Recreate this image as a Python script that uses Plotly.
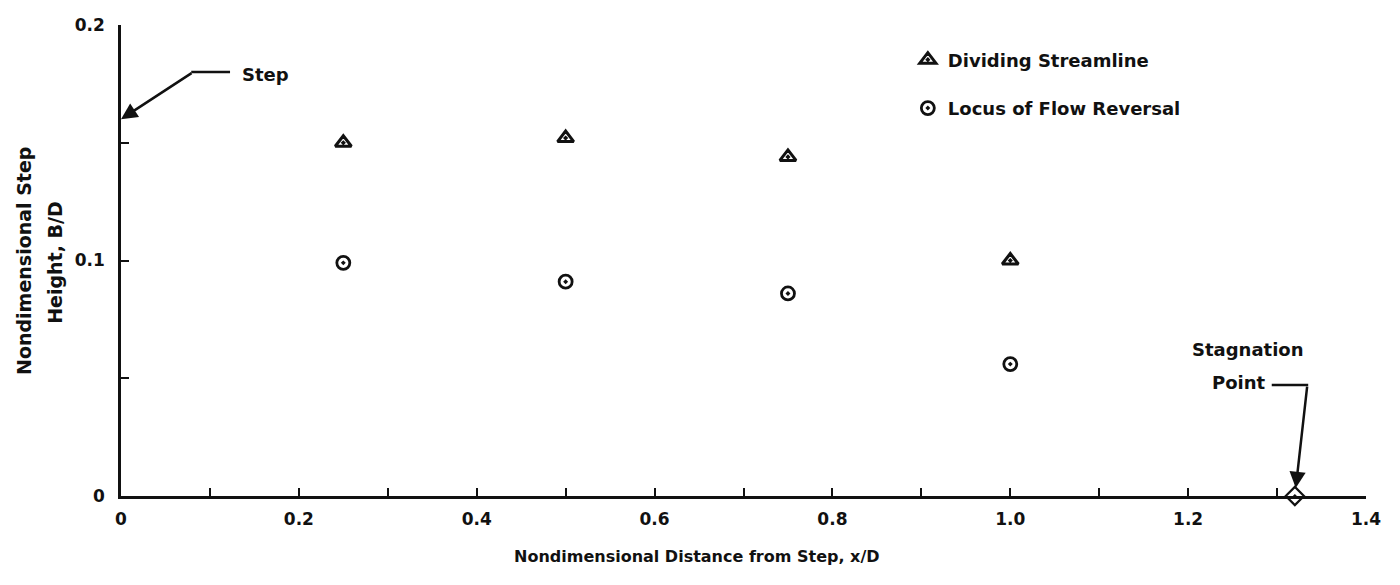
import plotly.graph_objects as go

# Measured profile data downstream of a rearward-facing step
x_stations = [0.25, 0.50, 0.75, 1.00]
dividing_streamline = [0.150, 0.152, 0.144, 0.100]
flow_reversal = [0.099, 0.091, 0.086, 0.056]
stagnation_x = [1.32]
stagnation_y = [0.0]
step_height = 0.16

x_ticks = [round(0.1 * i, 1) for i in range(15)]
x_ticktext = ["0", "", "0.2", "", "0.4", "", "0.6", "", "0.8", "", "1.0", "", "1.2", "", "1.4"]
y_ticks = [0, 0.05, 0.1, 0.15, 0.2]
y_ticktext = ["0", "", "0.1", "", "0.2"]

INK = "#111111"
FONT = "DejaVu Sans"

fig = go.Figure()

fig.add_trace(go.Scatter(
    x=x_stations, y=dividing_streamline, mode="markers",
    name="Dividing Streamline", legendgroup="a",
    marker=dict(symbol="triangle-up-open-dot", size=14, color=INK,
                line=dict(width=3, color=INK)),
    cliponaxis=False,
))
fig.add_trace(go.Scatter(
    x=x_stations, y=flow_reversal, mode="markers",
    name="Locus of Flow Reversal", legendgroup="b",
    marker=dict(symbol="circle-open-dot", size=13, color=INK,
                line=dict(width=2.8, color=INK)),
    cliponaxis=False,
))
fig.add_trace(go.Scatter(
    x=stagnation_x, y=stagnation_y, mode="markers", showlegend=False,
    marker=dict(symbol="diamond-open-dot", size=14, color=INK,
                line=dict(width=2.2, color=INK)),
    cliponaxis=False,
))

txt = dict(family=FONT, size=18, color=INK, weight="bold")

annotations = [
    # "Step" callout
    dict(x=0.134, y=0.179, xref="x", yref="y", text="Step", showarrow=False,
         xanchor="left", yanchor="middle", font=txt),
    dict(x=0, y=step_height, xref="x", yref="y", ax=0.081, ay=0.18,
         axref="x", ayref="y", text="", showarrow=True, arrowhead=2,
         arrowsize=1.3, arrowwidth=2.5, arrowcolor=INK),
    # "Stagnation Point" callout
    dict(x=1.267, y=0.062, xref="x", yref="y", text="Stagnation", showarrow=False,
         xanchor="center", yanchor="middle", font=txt),
    dict(x=1.290, y=0.0484, xref="x", yref="y", text="Point", showarrow=False,
         xanchor="right", yanchor="middle", font=txt),
    dict(x=stagnation_x[0], y=stagnation_y[0], xref="x", yref="y",
         ax=1.334, ay=0.0471, axref="x", ayref="y", text="", showarrow=True,
         arrowhead=2, arrowsize=1.3, arrowwidth=2.5, arrowcolor=INK, standoff=8),
    # x-axis title, set left of centre
    dict(x=0.4627, y=-0.1295, xref="paper", yref="paper",
         text="Nondimensional Distance from Step, x/D", showarrow=False,
         xanchor="center", yanchor="middle",
         font=dict(family=FONT, size=16, color=INK, weight="bold")),
    # two-line y-axis title
    dict(x=-0.0779, y=0.499, xref="paper", yref="paper", text="Nondimensional Step",
         textangle=-90, showarrow=False, xanchor="center", yanchor="middle",
         font=dict(family=FONT, size=19, color=INK, weight="bold")),
    dict(x=-0.053, y=0.495, xref="paper", yref="paper", text="Height, B/D",
         textangle=-90, showarrow=False, xanchor="center", yanchor="middle",
         font=dict(family=FONT, size=19, color=INK, weight="bold")),
]

shapes = [
    dict(type="line", xref="x", yref="y", x0=0.079, x1=0.1226, y0=0.18, y1=0.18,
         line=dict(color=INK, width=2.5)),
    dict(type="line", xref="x", yref="y", x0=1.294, x1=1.335, y0=0.0471, y1=0.0471,
         line=dict(color=INK, width=2.5)),
]

fig.update_layout(
    width=1400, height=585,
    margin=dict(l=121, r=34, t=25, b=89),
    paper_bgcolor="white", plot_bgcolor="white",
    font=dict(family=FONT, size=17, color=INK, weight="bold"),
    showlegend=True,
    legend=dict(x=0.632, y=0.965, xanchor="left", yanchor="top",
                traceorder="grouped", tracegroupgap=22,
                bgcolor="rgba(0,0,0,0)",
                font=dict(family=FONT, size=18, color=INK, weight="bold")),
    xaxis=dict(
        range=[0, 1.4], tickvals=x_ticks, ticktext=x_ticktext,
        showgrid=False, zeroline=False, showline=True, linecolor=INK, linewidth=2.5,
        ticks="inside", ticklen=8, tickwidth=2, tickcolor=INK,
        ticklabelstandoff=6,
        tickfont=dict(family=FONT, size=17, color=INK, weight="bold"),
    ),
    yaxis=dict(
        range=[0, 0.2], tickvals=y_ticks, ticktext=y_ticktext,
        showgrid=False, zeroline=False, showline=True, linecolor=INK, linewidth=2.5,
        ticks="inside", ticklen=8, tickwidth=2, tickcolor=INK,
        ticklabelstandoff=10,
        tickfont=dict(family=FONT, size=17, color=INK, weight="bold"),
    ),
    annotations=annotations,
    shapes=shapes,
)

fig.write_html("out.html")
